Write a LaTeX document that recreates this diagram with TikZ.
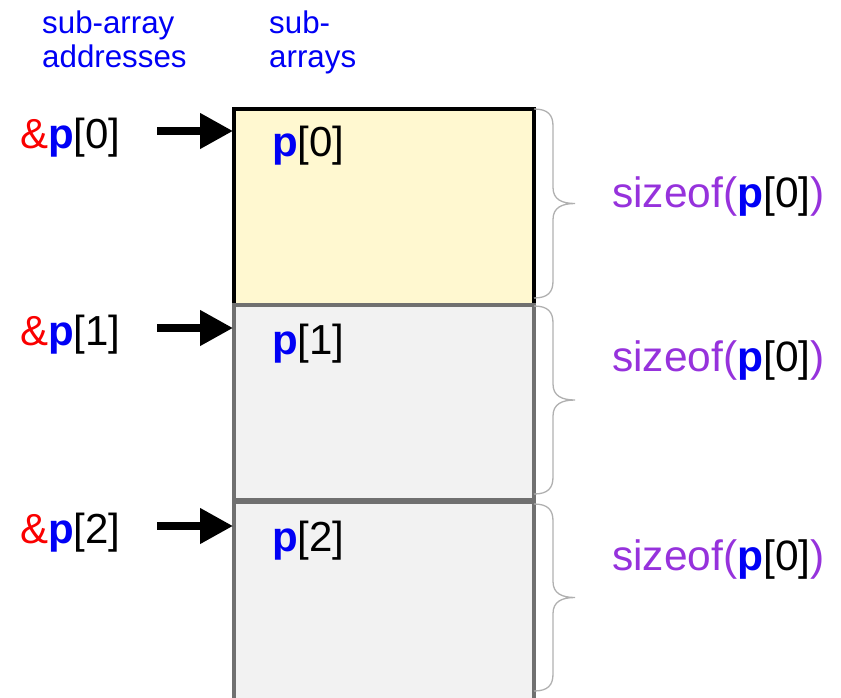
\documentclass[tikz,border=0pt]{standalone}
\usepackage{fontspec}
\setmainfont{Liberation Sans}
\usetikzlibrary{arrows.meta}
\definecolor{pblue}{RGB}{0,0,245}
\definecolor{pred}{RGB}{250,0,0}
\definecolor{ppurple}{RGB}{150,50,220}
\definecolor{yfill}{RGB}{255,248,208}
\definecolor{gfill}{RGB}{242,242,242}
\definecolor{gline}{RGB}{112,112,112}
\definecolor{bracecol}{RGB}{176,176,176}
\newcommand{\pp}[1]{\textcolor{pblue}{\textbf{p}}\textcolor{black}{[#1]}}
\newcommand{\bracefrom}[2]{%
  \draw[bracegrey] (534,#1) .. controls (548,#1) and (553,{#1+6}) .. (553,{#1+17})
    -- (553,{(#1+#2)/2-16}) .. controls (553,{(#1+#2)/2-4}) and (562,{(#1+#2)/2}) .. (575,{(#1+#2)/2})
    .. controls (562,{(#1+#2)/2}) and (553,{(#1+#2)/2+4}) .. (553,{(#1+#2)/2+16})
    -- (553,{#2-17}) .. controls (553,{#2-6}) and (548,#2) .. (534,#2);}
\begin{document}
\begin{tikzpicture}[x=1pt,y=-1pt,
  hdr/.style={anchor=base west,inner sep=0pt,text=pblue,font=\fontsize{31.3}{35}\selectfont,align=left},
  lbl/.style={anchor=base west,inner sep=0pt,font=\fontsize{42}{48}\selectfont},
  szlbl/.style={anchor=base west,inner sep=0pt,font=\fontsize{42.5}{48}\selectfont,text=ppurple},
  firstbox/.style={draw=black,fill=yfill,line width=4pt,anchor=north west,minimum width=300pt,inner sep=0pt,outer sep=0pt},
  otherbox/.style={draw=gline,fill=gfill,line width=4pt,anchor=north west,minimum width=300pt,inner sep=0pt,outer sep=0pt},
  ptr/.style={line width=7.5pt,-{Triangle[length=33pt,width=34pt]},shorten >=1pt},
  bracegrey/.style={draw=bracecol,line width=1.3pt}]
\useasboundingbox (0,0) rectangle (841,697);
% headers
\node[hdr] (h1) at (42,33) {sub-array};
\node[hdr] (h2) at (42,67) {addresses};
\node[hdr] (h3) at (269,33) {sub-};
\node[hdr] (h4) at (269,67) {arrays};
% boxes
\node[firstbox,minimum height=196pt] (b0) at (234,109) {};
\node[otherbox,minimum height=195pt] (b1) at (234,305) {};
\node[otherbox,minimum height=200pt] (b2) at (234,502) {};
% labels in boxes
\node[lbl] (t0) at (272,156) {\pp{0}};
\node[lbl] (t1) at (272,354) {\pp{1}};
\node[lbl] (t2) at (272,551) {\pp{2}};
% address labels
\node[lbl] (l0) at (20,148) {\textcolor{pred}{\&}\pp{0}};
\node[lbl] (l1) at (20,345) {\textcolor{pred}{\&}\pp{1}};
\node[lbl] (l2) at (20,543) {\textcolor{pred}{\&}\pp{2}};
% arrows
\coordinate (s0) at (157,131);
\coordinate (s1) at (157,328);
\coordinate (s2) at (157,526);
\draw[ptr] (s0) -- (b0.west |- s0);
\draw[ptr] (s1) -- (b1.west |- s1);
\draw[ptr] (s2) -- (b2.west |- s2);
% braces
\bracefrom{109}{298}
\bracefrom{306}{494}
\bracefrom{504}{691}
% sizes
\node[szlbl] (z0) at (612,207) {sizeof(\pp{0})};
\node[szlbl] (z1) at (612,371) {sizeof(\pp{0})};
\node[szlbl] (z2) at (612,570) {sizeof(\pp{0})};
\end{tikzpicture}
\end{document}
